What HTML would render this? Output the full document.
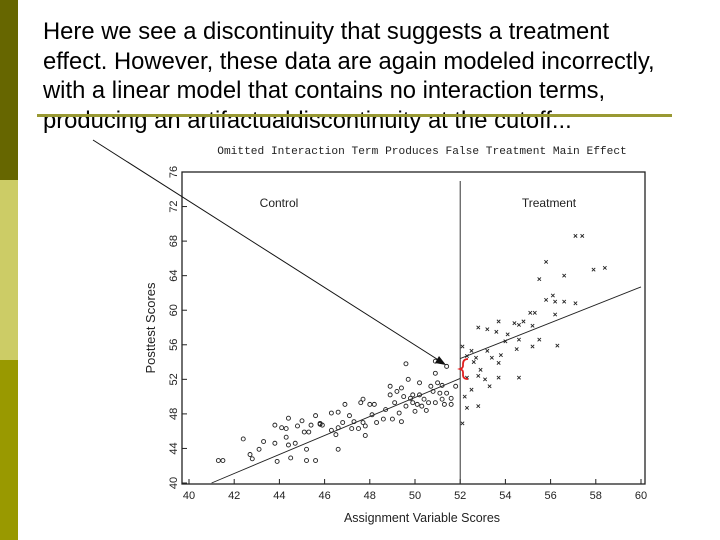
<!DOCTYPE html>
<html><head><meta charset="utf-8"><style>
body{margin:0;width:720px;height:540px;background:#fff;overflow:hidden;position:relative;font-family:"Liberation Sans",Arial,sans-serif}
.bar{position:absolute;left:0;width:18px}
#txt{position:absolute;left:43px;top:17px;font-size:23.8px;line-height:29.5px;color:#000;width:675px;white-space:nowrap}
#rule{position:absolute;left:37px;top:114px;width:635px;height:3px;background:#999933}
svg{position:absolute;left:0;top:0}
</style></head><body>
<div class="bar" style="top:0;height:180px;background:#666600"></div>
<div class="bar" style="top:180px;height:180px;background:#cccc66"></div>
<div class="bar" style="top:360px;height:180px;background:#999900"></div>
<div id="txt">Here we see a discontinuity that suggests a treatment<br>effect. However, these data are again modeled incorrectly,<br>with a linear model that contains no interaction terms,<br>producing an artifactualdiscontinuity at the cutoff...</div>
<div id="rule"></div>
<svg id="chart" width="720" height="540"></svg>
<script>
const xTicks=[40,42,44,46,48,50,52,54,56,58,60];
const yTicks=[40,44,48,52,56,60,64,68,72,76];
const ctrlX=[41.3,41.5,42.4,42.7,42.8,43.1,43.3,43.8,43.8,43.9,44.1,44.3,44.4,44.3,44.4,44.5,44.7,44.8,45.0,45.1,45.2,45.2,45.3,45.4,45.6,45.6,45.8,45.8,45.9,46.3,46.3,46.5,46.6,46.6,46.6,46.8,46.9,47.1,47.2,47.3,47.5,47.6,47.7,47.7,47.8,47.8,48.0,48.1,48.2,48.3,48.6,48.7,48.9,48.9,49.0,49.1,49.2,49.3,49.4,49.4,49.5,49.6,49.6,49.7,49.8,49.9,49.9,50.0,50.1,50.2,50.2,50.3,50.4,50.5,50.6,50.7,50.8,50.9,50.9,50.9,51.0,51.1,51.2,51.2,51.3,51.4,51.4,51.6,51.6,51.8];
const ctrlY=[42.6,42.6,45.1,43.3,42.8,43.9,44.8,46.7,44.6,42.5,46.4,46.3,47.5,45.3,44.4,42.9,44.6,46.6,47.2,45.9,42.6,43.9,45.9,46.7,42.6,47.8,46.8,46.9,46.7,46.1,48.1,45.6,48.2,43.9,46.4,47.0,49.1,47.8,46.3,47.1,46.3,49.3,49.7,47.0,45.5,46.6,49.1,47.9,49.1,47.0,47.4,48.5,51.2,50.2,47.4,49.3,50.6,48.1,51.0,47.1,50.0,53.8,48.9,52.0,49.8,49.3,50.2,48.3,49.1,51.6,50.2,48.9,49.7,48.4,49.3,51.2,50.6,52.7,49.3,54.1,51.6,50.4,49.7,51.3,49.1,50.4,53.5,49.8,49.1,51.2];
const trtX=[52.1,52.2,52.3,52.3,52.1,52.3,52.5,52.5,52.6,52.7,52.8,52.8,52.8,52.9,53.1,53.2,53.2,53.3,53.4,53.6,53.7,53.7,53.7,53.8,54.0,54.1,54.4,54.5,54.6,54.6,54.6,54.8,55.1,55.2,55.2,55.3,55.5,55.5,55.8,55.8,56.1,56.2,56.2,56.3,56.6,56.6,57.1,57.1,57.4,57.9,58.4];
const trtY=[55.8,50.0,52.2,48.7,46.9,54.7,50.8,55.3,54.0,54.5,48.9,58.0,52.4,53.1,52.0,57.8,55.3,51.2,54.5,57.5,52.2,58.7,53.9,54.8,56.4,57.2,58.5,55.5,58.3,52.2,56.6,58.7,59.7,58.2,55.8,59.7,56.6,63.6,65.6,61.2,61.7,61.0,59.5,55.9,64.0,61.0,60.8,68.6,68.6,64.7,64.9];
const ctrlLineX=[41,52]; const ctrlLineY=[40,52.1];
const trtLineX=[52,60]; const trtLineY=[54.4,62.7];
const cutoff=52;
const NS='http://www.w3.org/2000/svg';
const svg=document.getElementById('chart');
const X0=189,X1=641,Y0=483,Y1=172;
const sx=v=>X0+(v-40)*(X1-X0)/20, sy=v=>Y0-(v-40)*(Y0-Y1)/36;
function mk(t,a,p){const e=document.createElementNS(NS,t);for(const k in a)e.setAttribute(k,a[k]);(p||svg).appendChild(e);return e;}
const frame=mk('rect',{x:182,y:172,width:463,height:312,fill:'none',stroke:'#222','stroke-width':1.3});


const ttl=mk('text',{x:422,y:154,'text-anchor':'middle','font-size':11.2,'font-family':'Liberation Mono,monospace',fill:'#222'});
ttl.textContent='Omitted Interaction Term Produces False Treatment Main Effect';


xTicks.forEach(v=>{
  const t=mk('text',{x:sx(v),y:499,'text-anchor':'middle','font-size':11,fill:'#222'});t.textContent=v;
  
  
  mk('line',{x1:sx(v),x2:sx(v),y1:484,y2:479,stroke:'#222'});
});
yTicks.forEach(v=>{
  const t=mk('text',{x:0,y:0,'text-anchor':'middle','font-size':11,fill:'#222',transform:`translate(177,${sy(v)}) rotate(-90)`});t.textContent=v;
  
  
  mk('line',{x1:182,x2:187,y1:sy(v),y2:sy(v),stroke:'#222'});
});
const xt=mk('text',{x:422,y:522,'text-anchor':'middle','font-size':12.5,fill:'#222'});xt.textContent='Assignment Variable Scores';


const yt=mk('text',{x:0,y:0,'text-anchor':'middle','font-size':13,fill:'#222',transform:'translate(155,328) rotate(-90)'});yt.textContent='Posttest Scores';


const c1=mk('text',{x:279,y:207,'text-anchor':'middle','font-size':12,fill:'#222'});c1.textContent='Control';


const c2=mk('text',{x:549,y:207,'text-anchor':'middle','font-size':12,fill:'#222'});c2.textContent='Treatment';


const cut=mk('line',{x1:sx(cutoff),x2:sx(cutoff),y1:181,y2:484,stroke:'#333','stroke-width':1});


ctrlX.forEach((v,i)=>{const c=mk('circle',{cx:sx(v),cy:sy(ctrlY[i]),r:2,fill:'none',stroke:'#222','stroke-width':0.9});
  
  });
trtX.forEach((v,i)=>{const x=sx(v),y=sy(trtY[i]);const p=mk('path',{d:`M${x-1.7},${y-1.7}L${x+1.7},${y+1.7}M${x-1.7},${y+1.7}L${x+1.7},${y-1.7}`,stroke:'#222','stroke-width':0.9});
  
  });
const l1=mk('line',{x1:sx(ctrlLineX[0]),y1:sy(ctrlLineY[0]),x2:sx(ctrlLineX[1]),y2:sy(ctrlLineY[1]),stroke:'#222','stroke-width':0.9});


const l2=mk('line',{x1:sx(trtLineX[0]),y1:sy(trtLineY[0]),x2:sx(trtLineX[1]),y2:sy(trtLineY[1]),stroke:'#222','stroke-width':0.9});


const ar=mk('line',{x1:93,y1:140,x2:440,y2:361,stroke:'#111','stroke-width':1});


const ah=mk('path',{d:'M446,365 L435,363 L439,356 Z',fill:'#111'});


const br=mk('path',{d:'M468,359 Q463,359 463,364 L463,366 Q463,368 460,369 Q463,370 463,372 L463,375 Q463,379 468,379',fill:'none',stroke:'#e02020','stroke-width':1.8});


</script>
</body></html>
